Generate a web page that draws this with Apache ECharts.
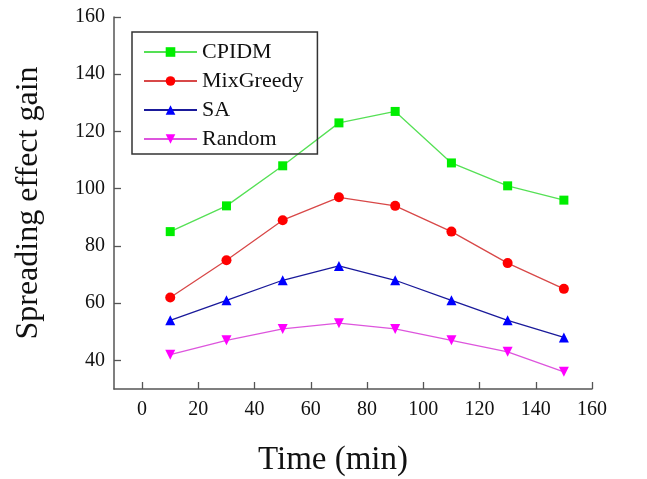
<!DOCTYPE html>
<html>
<head>
<meta charset="utf-8">
<script src="https://cdn.jsdelivr.net/npm/echarts@6/dist/echarts.min.js"></script>
<style>
  html, body { margin: 0; padding: 0; background: #fff; }
  #chart { width: 647px; height: 479px; }
</style>
</head>
<body>
<div id="chart"></div>
<script>
const times = [10, 30, 50, 70, 90, 110, 130, 150];
const cpidm = [85, 94, 108, 123, 127, 109, 101, 96];
const mixGreedy = [62, 75, 89, 97, 94, 85, 74, 65];
const sa = [54, 61, 68, 73, 68, 61, 54, 48];
const random = [42, 47, 51, 53, 51, 47, 43, 36];
const xTicks = [0, 20, 40, 60, 80, 100, 120, 140, 160];
const yTicks = [40, 60, 80, 100, 120, 140, 160];

const font = '"Liberation Serif", "DejaVu Serif", serif';
const pairs = vals => times.map((t, i) => [t, vals[i]]);

const chart = echarts.init(document.getElementById('chart'));

const makeSeries = (name, vals, lineColor, markColor, symbol, size, rotate) => ({
  name: name,
  type: 'line',
  data: pairs(vals),
  symbol: symbol,
  symbolSize: size,
  symbolRotate: rotate || 0,
  lineStyle: { color: lineColor, width: 1.3 },
  itemStyle: { color: markColor, borderWidth: 0 },
  emphasis: { disabled: true },
  animation: false
});

chart.setOption({
  backgroundColor: '#fff',
  grid: { left: 114, right: 55, top: 17, bottom: 90, outerBoundsMode: 'none' },
  legend: {
    orient: 'vertical',
    left: 132,
    top: 32,
    padding: [9, 14, 4, 11],
    itemWidth: 53,
    itemHeight: 12,
    itemGap: 7,
    borderColor: '#333',
    borderWidth: 1.5,
    textStyle: { fontFamily: font, fontSize: 22, color: '#111' },
    data: ['CPIDM', 'MixGreedy', 'SA', 'Random']
  },
  xAxis: {
    type: 'value',
    min: -10,
    max: 160,
    name: 'Time (min)',
    nameLocation: 'middle',
    nameGap: 55,
    nameTextStyle: { fontFamily: font, fontSize: 33, color: '#111', padding: [0, 40, 0, 0] },
    axisLine: { onZero: false, lineStyle: { color: '#555', width: 1.5 } },
    axisTick: { inside: true, length: 7, customValues: xTicks, lineStyle: { color: '#555', width: 1.3 } },
    axisLabel: { customValues: xTicks, fontFamily: font, fontSize: 20, color: '#111', margin: 11 },
    splitLine: { show: false }
  },
  yAxis: {
    type: 'value',
    min: 30,
    max: 160,
    name: 'Spreading effect gain',
    nameLocation: 'middle',
    nameGap: 69,
    nameTextStyle: { fontFamily: font, fontSize: 32, color: '#111' },
    axisLine: { show: true, onZero: false, lineStyle: { color: '#555', width: 1.5 } },
    axisTick: { show: true, inside: true, length: 7, customValues: yTicks, lineStyle: { color: '#555', width: 1.3 } },
    axisLabel: { customValues: yTicks, fontFamily: font, fontSize: 20, color: '#111', margin: 9 },
    splitLine: { show: false }
  },
  series: [
    makeSeries('CPIDM', cpidm, '#55e055', '#00ee00', 'rect', 9),
    makeSeries('MixGreedy', mixGreedy, '#d84848', '#ff0000', 'circle', 10),
    makeSeries('SA', sa, '#1a1a9a', '#0000ff', 'triangle', 10),
    makeSeries('Random', random, '#dd55dd', '#ff00ff', 'triangle', 10, 180)
  ]
});
</script>
</body>
</html>
